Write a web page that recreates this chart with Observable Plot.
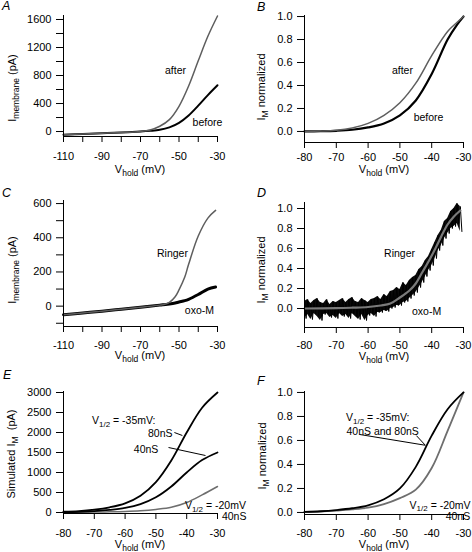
<!DOCTYPE html>
<html><head><meta charset="utf-8">
<script src="https://cdn.jsdelivr.net/npm/d3@7"></script>
<script src="https://cdn.jsdelivr.net/npm/@observablehq/plot@0.6"></script>
<style>
body{margin:0;background:#fff;}
#fig{position:relative;width:472px;height:552px;overflow:hidden;background:#fff;}
#fig text{white-space:pre;}
</style></head><body><div id="fig"></div>
<script>
const FONT = "Arial, 'Liberation Sans', Helvetica, sans-serif";

// ---------- Panel A: membrane current (pA) vs Vhold ----------
const vA = [-110, -100, -90, -80, -70, -65, -60, -55, -50, -45, -40, -35, -30];
const afterA = [-45, -35, -25, -14, 2, 22, 75, 170, 360, 650, 1010, 1360, 1650];
const beforeA = [-45, -35, -25, -14, 0, 10, 25, 60, 125, 230, 370, 520, 660];

// ---------- Panel B: normalized IM ----------
const vB = [-80, -75, -70, -65, -60, -55, -50, -45, -40, -35, -32, -30];
const afterB = [0, 0.003, 0.01, 0.03, 0.07, 0.14, 0.25, 0.42, 0.66, 0.87, 0.95, 1.0];
const beforeB = [0, 0.002, 0.006, 0.015, 0.035, 0.07, 0.14, 0.27, 0.50, 0.80, 0.93, 1.0];

// ---------- Panel C ----------
const vC = [-110, -100, -90, -80, -70, -60, -57, -55, -52, -50, -47, -45, -40, -35, -31];
const ringerC = [-50, -40, -30, -18, -6, 6, 12, 22, 55, 95, 170, 245, 410, 515, 560];
const oxoC = [-50, -40, -30, -18, -6, 6, 9, 12, 18, 24, 32, 40, 68, 100, 112];

// ---------- Panel D ----------
const vDfit = [-80, -70, -65, -60, -56, -53, -50, -47, -45, -43, -41, -39, -37, -35, -33, -31];
const fitD = [0, 0.003, 0.008, 0.015, 0.03, 0.05, 0.11, 0.18, 0.25, 0.36, 0.47, 0.59, 0.72, 0.84, 0.92, 0.98];
const vDnoise = [-80,-79,-78,-77,-76,-75,-74,-73,-72,-71,-70,-69,-68,-67,-66,-65,-64,-63,-62,-61,-60,-59,-58,-57,-56,-55,-54,-53,-52,-51,-50,-49,-48,-47,-46,-45,-44,-43,-42,-41,-40,-39,-38,-37,-36,-35,-34,-33,-32,-31];
const hiD = [0.07,0.09,0.05,0.08,0.10,0.06,0.05,0.09,0.04,0.07,0.06,0.08,0.10,0.06,0.09,0.11,0.07,0.06,0.10,0.08,0.06,0.09,0.10,0.12,0.09,0.14,0.12,0.17,0.18,0.21,0.19,0.26,0.23,0.28,0.31,0.33,0.39,0.42,0.48,0.52,0.59,0.66,0.73,0.78,0.87,0.90,0.97,1.00,1.05,1.02];
const loD = [-0.10,-0.06,-0.11,-0.05,-0.08,-0.12,-0.06,-0.05,-0.09,-0.07,-0.10,-0.05,-0.08,-0.06,-0.10,-0.05,-0.08,-0.11,-0.06,-0.12,-0.07,-0.05,-0.08,-0.04,-0.04,-0.02,-0.03,0.00,0.01,0.03,0.03,0.06,0.07,0.10,0.13,0.16,0.21,0.26,0.32,0.38,0.43,0.50,0.58,0.63,0.70,0.75,0.80,0.82,0.85,0.77];

// ---------- Panel E: simulated IM (pA) ----------
const vE = [-80, -75, -70, -65, -60, -55, -50, -45, -40, -35, -30];
const g80E = [20, 35, 70, 130, 230, 420, 760, 1300, 2000, 2620, 3000];
const g40E = [10, 18, 35, 65, 115, 210, 380, 650, 1000, 1310, 1500];
const v20E = [2, 5, 10, 17, 27, 45, 78, 130, 250, 440, 650];

// ---------- Panel F: normalized simulated ----------
const vF = [-80, -75, -70, -65, -60, -55, -50, -45, -40, -35, -30];
const v35F = [0.005, 0.01, 0.02, 0.035, 0.06, 0.11, 0.2, 0.38, 0.64, 0.86, 1.0];
const v20F = [0.003, 0.007, 0.015, 0.025, 0.04, 0.07, 0.12, 0.19, 0.37, 0.68, 1.0];

// ---------- annotations ----------
const annA = [{label: "after", x: -51.8, y: 871}, {label: "before", x: -35.2, y: 129}];
const annB = [{label: "after", x: -49.2, y: 0.53}, {label: "before", x: -41.0, y: 0.122}];
const annC = [{label: "Ringer", x: -53.4, y: 308}, {label: "oxo-M", x: -39.4, y: -25}];
const annD = [{label: "Ringer", x: -50.1, y: 0.55}, {label: "oxo-M", x: -41.6, y: -0.03}];
const annE = [{label: "80nS", x: -44.6, y: 1975}, {label: "40nS", x: -49.2, y: 1575}, {label: "40nS", x: -20.6, y: -100}];
const annF = [{label: "40nS", x: -27.9, y: -0.035}];
const annF2 = [{label: "40nS and 80nS", x: -66.8, y: 0.675}];
const ptrE = [{x1: -44.0, y1: 2000, x2: -41.4, y2: 1925}, {x1: -45.9, y1: 1625, x2: -33.9, y2: 1425}];
const ptrF = [{x1: -62.7, y1: 0.65, x2: -42.0, y2: 0.56}, {x1: -44.8, y1: 0.64, x2: -42.0, y2: 0.56}];

const rows = (xs, cols) => xs.map((v, i) => { const o = {v}; for (const k in cols) o[k] = cols[k][i]; return o; });
const rowsA = rows(vA, {after: afterA, before: beforeA});
const rowsB = rows(vB, {after: afterB, before: beforeB});
const rowsC = rows(vC, {ringer: ringerC, oxo: oxoC});
const rowsDfit = rows(vDfit, {fit: fitD});
const rowsDband = rows(vDnoise, {hi: hiD, lo: loD});
// noisy trace: each sample's upper then lower excursion
const traceD = vDnoise.flatMap((v, i) => [{v, y: hiD[i]}, {v: v + 0.5, y: loD[i]}]);
const rowsE = rows(vE, {g80: g80E, g40: g40E, v20: v20E});
const rowsF = rows(vF, {v35: v35F, v20: v20F});

const fig = document.getElementById("fig");
const W = 236, H = 184;
const lin = (d, r) => v => r[0] + (v - d[0]) / (d[1] - d[0]) * (r[1] - r[0]);

function panel(cfg) {
  const svg = Plot.plot({
    width: W, height: H,
    marginLeft: cfg.ml, marginRight: cfg.mr, marginTop: cfg.mt, marginBottom: cfg.mb,
    style: {background: "transparent", overflow: "visible", fontFamily: FONT, fontSize: "11px", color: "#000",
            position: "absolute", left: cfg.left + "px", top: cfg.top + "px"},
    x: {domain: cfg.xdom},
    y: {domain: cfg.ydom},
    marks: [
      ...cfg.marks,
      Plot.axisX({ticks: cfg.xticks, tickFormat: cfg.xfmt, tickSize: 6, tickPadding: cfg.xpad, label: null, fontSize: 11}),
      Plot.axisY({ticks: cfg.yticks, tickFormat: cfg.yfmt, tickSize: 7, tickPadding: 5, label: null, fontSize: 11}),
      Plot.ruleX([cfg.xdom[0]], {stroke: "#000"}),
      Plot.ruleY([cfg.ydom[0]], {stroke: "#000"})
    ]
  });
  fig.appendChild(svg);
  const sx = lin(cfg.xdom, [cfg.ml, W - cfg.mr]);
  const sy = lin(cfg.ydom, [H - cfg.mb, cfg.mt]);
  return {svg, sx, sy};
}

function rich(svg, x, y, parts, opt = {}) {
  const size = opt.size || 11, sub = opt.sub || 8.5, anchor = opt.anchor || "start";
  const t = d3.select(svg).append("text").attr("font-family", FONT).attr("font-size", size)
    .attr("fill", "#000").attr("text-anchor", anchor);
  if (opt.italic) t.attr("font-style", "italic");
  if (opt.rotate) t.attr("transform", `translate(${x},${y}) rotate(-90)`); else t.attr("x", x).attr("y", y);
  let shifted = false;
  const d = opt.dy || 3;
  for (const p of parts) {
    if (typeof p === "string") {
      const s = t.append("tspan").text(p);
      if (shifted) { s.attr("dy", -d); shifted = false; }
    } else {
      t.append("tspan").attr("font-size", sub).attr("dy", d).text(p.sub);
      shifted = true;
    }
  }
}

const fmtInt = d => String(d);
const every = (n, base) => d => ((d - base) % n === 0 ? String(d) : "");
const f1 = d => d.toFixed(1);
const xLong = d3.range(-110, -29, 10);
const xShort = d3.range(-80, -29, 10);
const yNorm = [0, 0.2, 0.4, 0.6, 0.8, 1.0];
const txt = (data, opts = {}) => Plot.text(data, {x: "x", y: "y", text: "label", fontSize: 10.5, fill: "#000",
  lineAnchor: "middle", textAnchor: "middle", fontFamily: FONT, ...opts});

// A
const A = panel({left: 0, top: 0, ml: 63, mr: 19, mt: 15, mb: 48, xdom: [-110, -30], ydom: [-71, 1657], xpad: 10,
  xticks: xLong, xfmt: every(20, -110), yticks: d3.range(0, 1601, 200), yfmt: every(400, 0),
  marks: [
    Plot.line(rowsA, {x: "v", y: "before", stroke: "#000", strokeWidth: 2, curve: "catmull-rom"}),
    Plot.line(rowsA, {x: "v", y: "after", stroke: "#5e5e5e", strokeWidth: 1.5, curve: "catmull-rom"}),
    txt(annA)
  ]});
// B
const B = panel({left: 236, top: 0, ml: 68, mr: 9, mt: 15, mb: 42, xdom: [-80, -30], ydom: [-0.096, 1.009], xpad: 5,
  xticks: xShort, xfmt: fmtInt, yticks: yNorm, yfmt: f1,
  marks: [
    Plot.line(rowsB, {x: "v", y: "before", stroke: "#000", strokeWidth: 2.2, curve: "catmull-rom"}),
    Plot.line(rowsB, {x: "v", y: "after", stroke: "#5e5e5e", strokeWidth: 1.5, curve: "catmull-rom"}),
    txt(annB)
  ]});
// C
const C = panel({left: 0, top: 184, ml: 63, mr: 19, mt: 16, mb: 42, xdom: [-110, -30], ydom: [-119, 618], xpad: 8.5,
  xticks: xLong, xfmt: every(20, -110), yticks: d3.range(-100, 601, 100), yfmt: d => (d % 200 === 0 ? String(d) : ""),
  marks: [
    Plot.line(rowsC, {x: "v", y: "oxo", stroke: "#000", strokeWidth: 3, curve: "catmull-rom"}),
    Plot.line(rowsC, {x: "v", y: "ringer", stroke: "#5e5e5e", strokeWidth: 1.5, curve: "catmull-rom"}),
    txt(annC)
  ]});
// D
const D = panel({left: 236, top: 184, ml: 68, mr: 9, mt: 18, mb: 41, xdom: [-80, -30], ydom: [-0.19, 1.06], xpad: 8,
  xticks: xShort, xfmt: fmtInt, yticks: yNorm, yfmt: f1,
  marks: [
    Plot.areaY(rowsDband, {x: "v", y1: "lo", y2: "hi", fill: "#0a0a0a"}),
    Plot.line(traceD, {x: "v", y: "y", stroke: "#000", strokeWidth: 1}),
    Plot.line(rowsDfit, {x: "v", y: "fit", stroke: "#7a7a7a", strokeWidth: 2.2, curve: "catmull-rom"}),
    txt(annD)
  ]});
// E
const E = panel({left: 0, top: 368, ml: 63, mr: 19, mt: 23, mb: 39, xdom: [-80, -30], ydom: [-25, 3025], xpad: 10,
  xticks: xShort, xfmt: fmtInt, yticks: d3.range(0, 3001, 500), yfmt: fmtInt,
  marks: [
    Plot.line(rowsE, {x: "v", y: "v20", stroke: "#6e6e6e", strokeWidth: 1.5, curve: "catmull-rom"}),
    Plot.line(rowsE, {x: "v", y: "g40", stroke: "#000", strokeWidth: 1.8, curve: "catmull-rom"}),
    Plot.line(rowsE, {x: "v", y: "g80", stroke: "#000", strokeWidth: 1.8, curve: "catmull-rom"}),
    Plot.link(ptrE, {x1: "x1", y1: "y1", x2: "x2", y2: "y2", stroke: "#000", strokeWidth: 1}),
    txt(annE, {textAnchor: "end"})
  ]});
// F
const F = panel({left: 236, top: 368, ml: 68, mr: 9, mt: 23, mb: 38, xdom: [-80, -30], ydom: [-0.017, 1.008], xpad: 9,
  xticks: xShort, xfmt: fmtInt, yticks: yNorm, yfmt: f1,
  marks: [
    Plot.line(rowsF, {x: "v", y: "v20", stroke: "#6e6e6e", strokeWidth: 1.8, curve: "catmull-rom"}),
    Plot.line(rowsF, {x: "v", y: "v35", stroke: "#000", strokeWidth: 1.8, curve: "catmull-rom"}),
    Plot.link(ptrF, {x1: "x1", y1: "y1", x2: "x2", y2: "y2", stroke: "#000", strokeWidth: 1}),
    txt(annF, {textAnchor: "end"}),
    txt(annF2, {textAnchor: "start"})
  ]});

// axis titles, panel letters, rich annotations
const memb = ["I", {sub: "membrane"}, " (pA)"];
const vhold = ["V", {sub: "hold"}, " (mV)"];
const imn = ["I", {sub: "M"}, " normalized"];
rich(A.svg, 140, 173, vhold, {anchor: "middle"});
rich(B.svg, 148, 173, vhold, {anchor: "middle"});
rich(C.svg, 140, 175, vhold, {anchor: "middle"});
rich(D.svg, 148, 176, vhold, {anchor: "middle"});
rich(E.svg, 140, 180, vhold, {anchor: "middle"});
rich(F.svg, 148, 180, vhold, {anchor: "middle"});
rich(A.svg, 16, 88, memb, {anchor: "middle", rotate: true});
rich(B.svg, 29, 87, imn, {anchor: "middle", rotate: true});
rich(C.svg, 16, 86, memb, {anchor: "middle", rotate: true});
rich(D.svg, 29, 86, imn, {anchor: "middle", rotate: true});
rich(E.svg, 15, 86, ["Simulated I", {sub: "M"}, "  (pA)"], {anchor: "middle", rotate: true});
rich(F.svg, 30, 88, imn, {anchor: "middle", rotate: true});
rich(A.svg, 2, 10, ["A"], {italic: true, size: 12.5});
rich(B.svg, 21, 11, ["B"], {italic: true, size: 12.5});
rich(C.svg, 2, 13, ["C"], {italic: true, size: 12.5});
rich(D.svg, 21, 13, ["D"], {italic: true, size: 12.5});
rich(E.svg, 3, 11, ["E"], {italic: true, size: 12.5});
rich(F.svg, 21, 17, ["F"], {italic: true, size: 12.5});
rich(E.svg, E.sx(-70.6), E.sy(2200), ["V", {sub: "1/2"}, " = -35mV:"], {size: 10.5, sub: 8, dy: 2.5});
rich(E.svg, E.sx(-20.6), E.sy(75), ["V", {sub: "1/2"}, " = -20mV"], {size: 10.5, sub: 8, anchor: "end", dy: 2.5});
rich(F.svg, F.sx(-66.8), F.sy(0.755), ["V", {sub: "1/2"}, " = -35mV:"], {size: 10.5, sub: 8, dy: 2.5});
rich(F.svg, F.sx(-27.6), F.sy(0.025), ["V", {sub: "1/2"}, " = -20mV"], {size: 10.5, sub: 8, anchor: "end", dy: 2.5});
</script></body></html>
